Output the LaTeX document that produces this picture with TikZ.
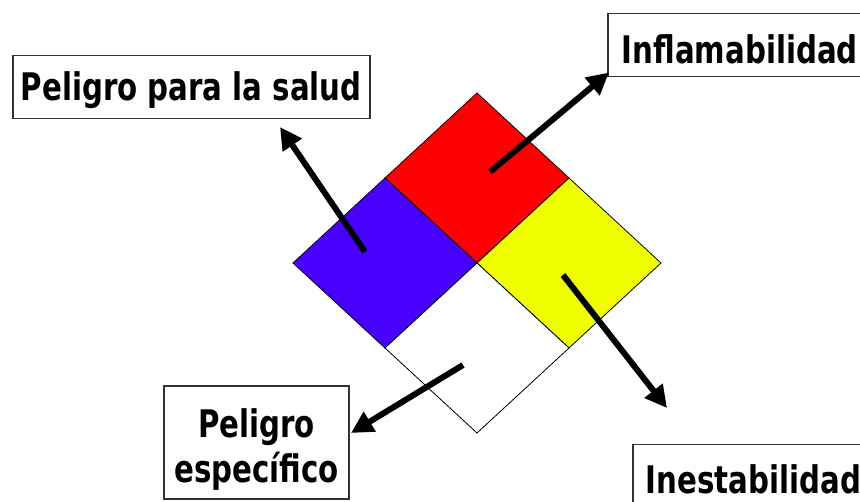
\documentclass[tikz,border=0pt]{standalone}
\usepackage{fontspec}
\usetikzlibrary{arrows.meta}
\newfontfamily\etiqfont[FakeStretch=0.77]{DejaVu Sans}
\definecolor{rombo-rojo}{RGB}{255,0,0}
\definecolor{rombo-azul}{RGB}{72,0,255}
\definecolor{rombo-amarillo}{RGB}{240,255,0}
\tikzset{
    caja/.style={draw=black!80, line width=1.5pt, fill=white, inner sep=0pt,
        font=\etiqfont\bfseries\fontsize{38}{46}\selectfont},
    panel/.style={draw=black, line width=0.8pt},
    flecha/.style={line width=6pt, -{Triangle[length=22pt,width=22pt]}}
}
\begin{document}
\begin{tikzpicture}[x=1pt, y=-1pt]
    \useasboundingbox (0,0) rectangle (860,502);

    % vertices of the diamond
    \coordinate (c) at (477,263);
    \coordinate (top) at (477,93);
    \coordinate (left) at (293,263);
    \coordinate (right) at (661,263);
    \coordinate (bottom) at (477,433);
    \coordinate (nw) at (385,178);
    \coordinate (ne) at (569,178);
    \coordinate (sw) at (385,348);
    \coordinate (se) at (569,348);

    \filldraw[panel, fill=rombo-rojo] (top) -- (ne) -- (c) -- (nw) -- cycle;
    \filldraw[panel, fill=rombo-azul] (nw) -- (c) -- (sw) -- (left) -- cycle;
    \filldraw[panel, fill=rombo-amarillo] (ne) -- (right) -- (se) -- (c) -- cycle;
    \filldraw[panel, fill=white] (c) -- (se) -- (bottom) -- (sw) -- cycle;

    % labels
    \node[caja, anchor=north west, minimum width=357pt, minimum height=63pt,
        text height=27pt, text depth=0pt] (salud) at (12,55) {Peligro para la salud};
    \node[caja, anchor=north west, minimum height=63pt, inner xsep=14pt,
        text height=37pt, text depth=0pt]
        (inflam) at (607,13) {Inflamabilidad\kern30pt};
    \node[caja, anchor=north west, minimum height=63pt, inner xsep=13pt,
        text height=35pt, text depth=0pt]
        (inest) at (632,444) {Inestabilidad\kern30pt};
    \node[caja, align=center, minimum width=185pt, minimum height=113pt,
        text height=81pt, text depth=0pt] (especif) at (256.5,442.5) {Peligro\\específico};

    % arrows
    \coordinate (rojo-in) at (490,172);
    \coordinate (azul-in) at (365,252);
    \coordinate (amarillo-in) at (563,275);
    \coordinate (blanco-in) at (463,365);
    \coordinate (salud-tip) at (280,127);
    \coordinate (inest-tip) at (667,408);
    \coordinate (especif-tip) at (351,433);

    \draw[flecha] (rojo-in) -- ([xshift=2pt, yshift=5pt]inflam.south west);
    \draw[flecha] (azul-in) -- (salud-tip);
    \draw[flecha] (amarillo-in) -- (inest-tip);
    \draw[flecha] (blanco-in) -- (especif-tip);
\end{tikzpicture}
\end{document}
